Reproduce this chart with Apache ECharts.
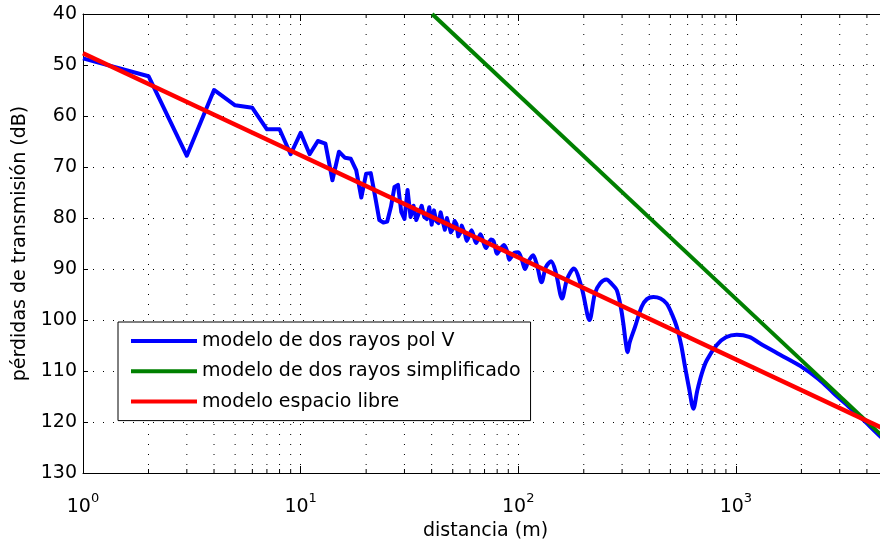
<!DOCTYPE html>
<html>
<head>
<meta charset="utf-8">
<script src="https://cdn.jsdelivr.net/npm/echarts@6/dist/echarts.min.js"></script>
<style>
  html, body { margin: 0; padding: 0; background: #fff; }
  #chart { width: 880px; height: 539px; }
</style>
</head>
<body>
<div id="chart"></div>
<script>
// Two-ray model (vertical polarisation): distance (m) and transmission loss (dB)
const twoRayDist = [
  1, 2, 3, 4, 5, 6, 7, 8, 9, 10,
  11, 12, 13, 14, 15, 16, 17, 18, 19, 20,
  21, 22, 23, 24, 25, 26, 27, 28, 29, 30,
  31, 32, 33, 34, 35, 36, 37, 38, 39, 40,
  41, 42, 43, 44, 45, 46, 47, 48, 49, 50,
  51, 52, 53, 54, 55, 56, 57,
  58, 61, 64, 67, 71, 73, 75, 77, 80, 83, 86, 89, 91, 93, 96,
  100, 104, 107.5, 111, 117, 122, 128, 134, 141.5, 149, 159, 167.6, 180, 196,
  212.5, 225, 238, 254, 270, 283.6, 296, 304, 312, 318, 325, 344, 369, 390,
  418, 450, 481, 510, 535, 560, 584, 610, 638, 665, 697, 735, 817, 900,
  1009, 1150, 1292, 1596, 1973, 2400, 2806, 3300, 3722, 4600, 5000
];
const twoRayLoss = [
  48.7, 52.2, 67.8, 54.9, 57.9, 58.4, 62.6, 62.6, 67.5, 63.3,
  67.5, 64.9, 65.4, 72.6, 67.0, 68.2, 68.4, 70.6, 76.0, 71.3,
  71.2, 75.8, 80.4, 80.9, 80.7, 77.8, 73.9, 73.5, 78.8, 80.2,
  74.5, 79.8, 77.6, 80.4, 79.0, 77.6, 79.8, 80.2, 77.9, 81.3,
  78.5, 80.6, 81.0, 78.9, 80.7, 82.3, 80.0, 79.9, 82.8, 82.2,
  80.6, 81.2, 83.6, 83.0, 81.5, 81.7, 83.2,
  84.5, 82.4, 84.9, 83.2, 85.9, 85.0, 84.2, 84.5, 87.0, 86.0, 85.3, 86.6, 88.2, 87.6, 86.8,
  86.7, 88.3, 90.0, 88.6, 87.3, 89.3, 92.6, 89.6, 88.5, 90.8, 95.8, 92.0, 89.9, 93.8,
  100.0, 94.8, 92.8, 92.05, 93.0, 94.15, 97.5, 100.7, 104.5, 106.3, 104.4, 101.35, 97.4, 95.9,
  95.5, 95.8, 96.8, 99.0, 101.35, 104.8, 109.2, 113.5, 117.4, 113.8, 110.5, 107.9, 104.9, 103.4,
  102.9, 103.3, 104.6, 106.8, 109.0, 111.6, 114.3, 117.0, 119.0, 122.8, 124.2
];

// Simplified two-ray model (40 dB/decade)
const simplifiedDist = [40.2, 5000];
const simplifiedLoss = [40.0, 123.8];

// Free-space model (20 dB/decade)
const freeSpaceDist = [1, 5000];
const freeSpaceLoss = [47.7, 121.7];

// Minor grid positions of the logarithmic distance axis
const minorDist = [
  2, 3, 4, 5, 6, 7, 8, 9,
  20, 30, 40, 50, 60, 70, 80, 90,
  200, 300, 400, 500, 600, 700, 800, 900,
  2000, 3000, 4000
];

const seriesNames = [
  'modelo de dos rayos pol V',
  'modelo de dos rayos simplificado',
  'modelo espacio libre'
];

const FONT = '"DejaVu Sans", Verdana, sans-serif';
const LOSS_MIN = 40, LOSS_MAX = 130;

const pairs = (xs, ys) => xs.map((x, i) => [x, ys[i]]);
const twoRayAll = pairs(twoRayDist, twoRayLoss);
const twoRayNear = twoRayAll.filter(p => p[0] <= 57);   // integer-sampled, jagged part
const twoRayFar = twoRayAll.filter(p => p[0] >= 57);    // smooth oscillations

const dotted = { color: '#000', width: 1, type: [1, 9] };

function renderMinorGrid(params, api) {
  const v = api.value(0);
  const top = api.coord([v, LOSS_MIN]);
  const bot = api.coord([v, LOSS_MAX]);
  return {
    type: 'group',
    silent: true,
    children: [
      { type: 'line', shape: { x1: top[0], y1: top[1], x2: bot[0], y2: bot[1] },
        style: { stroke: '#000', lineWidth: 1, lineDash: [1, 9] } },
      { type: 'line', shape: { x1: bot[0], y1: bot[1], x2: bot[0], y2: bot[1] - 4 },
        style: { stroke: '#000', lineWidth: 1 } },
      { type: 'line', shape: { x1: top[0], y1: top[1], x2: top[0], y2: top[1] + 4 },
        style: { stroke: '#000', lineWidth: 1 } }
    ]
  };
}

const chart = echarts.init(document.getElementById('chart'), null, { renderer: 'canvas' });

chart.setOption({
  animation: false,
  backgroundColor: '#fff',
  textStyle: { fontFamily: FONT },
  grid: {
    left: 83, right: -8, top: 14, bottom: 66,
    containLabel: false,
    outerBoundsMode: 'none',
    show: false
  },
  legend: {
    orient: 'vertical',
    left: 118, top: 322,
    padding: [9, 10, 9, 13],
    itemGap: 10.3,
    itemWidth: 66, itemHeight: 4,
    icon: 'rect',
    backgroundColor: '#fff',
    borderColor: '#000', borderWidth: 1, borderRadius: 0,
    data: seriesNames,
    textStyle: { fontFamily: FONT, fontSize: 19, color: '#000', lineHeight: 20 }
  },
  xAxis: [
    {
      type: 'log', logBase: 10, min: 1, max: 5000,
      position: 'bottom',
      name: 'distancia (m)', nameLocation: 'middle', nameGap: 32,
      nameTextStyle: { fontFamily: FONT, fontSize: 19, color: '#000' },
      axisLine: { show: true, onZero: false, lineStyle: { color: '#000', width: 1 } },
      axisTick: { show: true, inside: true, length: 7, lineStyle: { color: '#000' } },
      axisLabel: {
        show: true, margin: 19, color: '#000',
        formatter: function (v) {
          const e = Math.log10(v);
          if (Math.abs(e - Math.round(e)) > 1e-6) return '';
          return '{b|10}{s|' + Math.round(e) + '}';
        },
        rich: {
          b: { fontFamily: FONT, fontSize: 19, lineHeight: 30, color: '#000' },
          s: { fontFamily: FONT, fontSize: 13, lineHeight: 13, verticalAlign: 'top', color: '#000' }
        }
      },
      splitLine: { show: true, lineStyle: dotted }
    },
    {
      type: 'log', logBase: 10, min: 1, max: 5000,
      position: 'top',
      axisLine: { show: true, onZero: false, lineStyle: { color: '#000', width: 1 } },
      axisTick: { show: true, inside: true, length: 7, lineStyle: { color: '#000' } },
      axisLabel: { show: false },
      splitLine: { show: false }
    }
  ],
  yAxis: {
    type: 'value', inverse: true,
    min: LOSS_MIN, max: LOSS_MAX, interval: 10,
    name: 'pérdidas de transmisión (dB)', nameLocation: 'middle', nameGap: 51,
    nameTextStyle: { fontFamily: FONT, fontSize: 19, color: '#000' },
    axisLine: { show: true, onZero: false, lineStyle: { color: '#000', width: 1 } },
    axisTick: { show: true, inside: true, length: 5, lineStyle: { color: '#000' } },
    axisLabel: { margin: 6, color: '#000', fontFamily: FONT, fontSize: 19 },
    splitLine: { show: true, lineStyle: dotted }
  },
  series: [
    {
      type: 'custom', name: 'grid-minor', silent: true, z: 1,
      xAxisIndex: 0, yAxisIndex: 0,
      renderItem: renderMinorGrid,
      data: minorDist.map(v => [v, LOSS_MIN]),
      clip: false
    },
    {
      type: 'line', name: seriesNames[0], z: 3,
      data: twoRayNear, symbol: 'none', smooth: false,
      color: '#0000ff', lineStyle: { width: 4, color: '#0000ff', join: 'round' }
    },
    {
      type: 'line', name: seriesNames[0], z: 3,
      data: twoRayFar, symbol: 'none', smooth: 0.3,
      color: '#0000ff', lineStyle: { width: 4, color: '#0000ff', join: 'round' }
    },
    {
      type: 'line', name: seriesNames[1], z: 4,
      data: pairs(simplifiedDist, simplifiedLoss), symbol: 'none',
      color: '#008000', lineStyle: { width: 4, color: '#008000' }
    },
    {
      type: 'line', name: seriesNames[2], z: 5,
      data: pairs(freeSpaceDist, freeSpaceLoss), symbol: 'none',
      color: '#ff0000', lineStyle: { width: 4.5, color: '#ff0000' }
    }
  ]
});
</script>
</body>
</html>
